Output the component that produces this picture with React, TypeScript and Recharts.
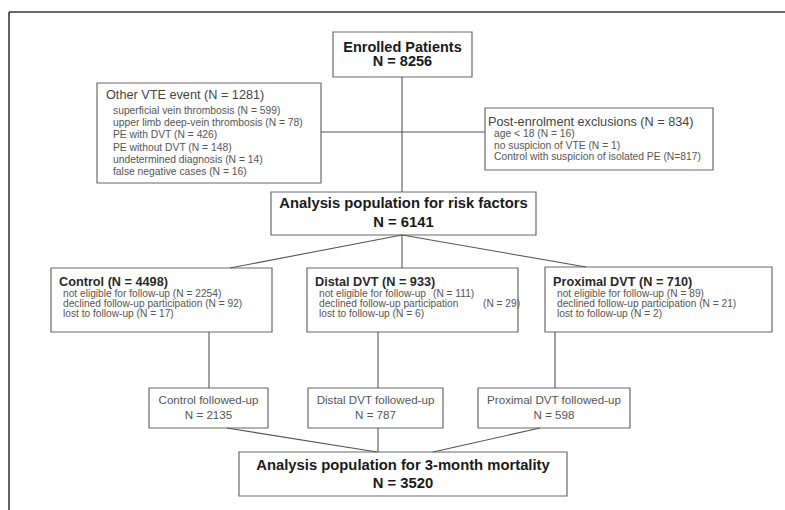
import React from 'react';
import { ScatterChart, XAxis, YAxis, Scatter, ReferenceArea, ReferenceLine } from 'recharts';

const W = 785;
const H = 510;

// counts
const enrolledTotal = 8256;
const otherVteTotal = 1281;
const otherVteLabels = [
  'superficial vein thrombosis',
  'upper limb deep-vein thrombosis',
  'PE with DVT',
  'PE without DVT',
  'undetermined diagnosis',
  'false negative cases',
];
const otherVteCounts = [599, 78, 426, 148, 14, 16];
const exclusionTotal = 834;
const exclusionLabels = ['age < 18', 'no suspicion of VTE', 'Control with suspicion of isolated PE'];
const exclusionCounts = [16, 1, 817];
const riskTotal = 6141;
const groups = ['Control', 'Distal DVT', 'Proximal DVT'];
const groupTotals = [4498, 933, 710];
const notEligible = [2254, 111, 89];
const declined = [92, 29, 21];
const lostFollowUp = [17, 6, 2];
const followedUp = [2135, 787, 598];
const mortalityTotal = 3520;

// layout (diagram units == pixels)
const boxes: Record<string, number[]> = {
  enrolled: [333, 32, 472, 77],
  otherVte: [97, 83, 321, 183],
  exclusions: [485, 108, 713, 170],
  risk: [271, 192, 536, 235],
  group0: [51, 268, 272, 332],
  group1: [307, 268, 518, 332],
  group2: [545, 267, 772, 332],
  fu0: [149, 388, 268, 428],
  fu1: [308, 388, 443, 428],
  fu2: [478, 388, 630, 428],
  mortality: [239, 452, 567, 496],
};

const links: number[][] = [
  [402, 77, 402, 192],
  [321, 132, 485, 132],
  [402, 235, 230, 268],
  [402, 235, 402, 268],
  [402, 235, 586, 267],
  [209, 332, 209, 388],
  [378, 332, 378, 388],
  [555, 332, 555, 388],
  [227, 428, 377, 452],
  [378, 428, 378, 452],
  [540, 428, 433, 452],
];

// the distal box lines its counts up in a column
const countTabs: (number[] | null)[] = [null, [118, 168], null];

const FONT = '"Liberation Sans", Arial, sans-serif';

type Line = { t: string; dx?: number; dy: number; size: number; bold?: boolean; color: string };
type Block = { x: number; y: number; anchor: 'start' | 'middle'; lines: Line[] };

const n = (v: number) => `N = ${v}`;

const itemStyle = { size: 10.2, color: '#555' };

function groupItem(label: string, count: number, dy: number, tab?: number): Line[] {
  if (tab == null) return [{ t: `${label} (${n(count)})`, dx: 4, dy, ...itemStyle }];
  return [
    { t: label, dx: 4, dy, ...itemStyle },
    { t: `(${n(count)})`, dx: tab, dy, ...itemStyle },
  ];
}

const blocks: Block[] = [
  {
    x: 402.5, y: 51.5, anchor: 'middle',
    lines: [
      { t: 'Enrolled Patients', dy: 0, size: 14.5, bold: true, color: '#1a1a1a' },
      { t: n(enrolledTotal), dy: 14.5, size: 14.5, bold: true, color: '#1a1a1a' },
    ],
  },
  {
    x: 106, y: 99, anchor: 'start',
    lines: [
      { t: `Other VTE event (${n(otherVteTotal)})`, dy: 0, size: 12.7, color: '#444' },
      ...otherVteLabels.map((l, i) => ({
        t: `${l} (${n(otherVteCounts[i])})`, dx: 7, dy: 15 + i * 12.2, size: 10.3, color: '#555',
      })),
    ],
  },
  {
    x: 488, y: 125.5, anchor: 'start',
    lines: [
      { t: `Post-enrolment exclusions (${n(exclusionTotal)})`, dy: 0, size: 12.7, color: '#444' },
      ...exclusionLabels.map((l, i) => ({
        t: `${l} (${i === 2 ? `N=${exclusionCounts[i]}` : n(exclusionCounts[i])})`,
        dx: 6, dy: 11.5 + i * 11.5, size: 10.3, color: '#555',
      })),
    ],
  },
  {
    x: 403.5, y: 208, anchor: 'middle',
    lines: [
      { t: 'Analysis population for risk factors', dy: 0, size: 14.8, bold: true, color: '#1a1a1a' },
      { t: n(riskTotal), dy: 18.5, size: 14.8, bold: true, color: '#1a1a1a' },
    ],
  },
  ...groups.map((g, i) => {
    const tabs = countTabs[i];
    return {
      x: boxes[`group${i}`][0] + 8, y: 285.5, anchor: 'start' as const,
      lines: [
        { t: `${g} (${n(groupTotals[i])})`, dy: 0, size: 12.7, bold: true, color: '#2a2a2a' },
        ...groupItem('not eligible for follow-up', notEligible[i], 11.5, tabs ? tabs[0] : undefined),
        ...groupItem('declined follow-up participation', declined[i], 21.5, tabs ? tabs[1] : undefined),
        ...groupItem('lost to follow-up', lostFollowUp[i], 31.5),
      ],
    };
  }),
  ...groups.map((g, i) => ({
    x: (boxes[`fu${i}`][0] + boxes[`fu${i}`][2]) / 2, y: 404, anchor: 'middle' as const,
    lines: [
      { t: `${g} followed-up`, dy: 0, size: 11.6, color: '#555' },
      { t: n(followedUp[i]), dy: 15, size: 11.6, color: '#555' },
    ],
  })),
  {
    x: 403, y: 470, anchor: 'middle',
    lines: [
      { t: 'Analysis population for 3-month mortality', dy: 0, size: 14.8, bold: true, color: '#1a1a1a' },
      { t: n(mortalityTotal), dy: 18, size: 14.8, bold: true, color: '#1a1a1a' },
    ],
  },
];

function TextBlock(props: any) {
  const { cx, cy, payload } = props;
  const b: Block = payload;
  return (
    <g>
      {b.lines.map((l, i) => (
        <text
          key={i}
          x={cx + (l.dx || 0)}
          y={cy + l.dy}
          textAnchor={b.anchor}
          fontFamily={FONT}
          fontSize={l.size}
          fontWeight={l.bold ? 700 : 400}
          fill={l.color}
        >
          {l.t}
        </text>
      ))}
    </g>
  );
}

export default function App() {
  return (
    <div style={{ position: 'absolute', left: 0, top: 0, width: W, height: H, background: '#fff' }}>
      <ScatterChart width={W} height={H} margin={{ top: 0, right: 0, bottom: 0, left: 0 }}>
        <XAxis type="number" dataKey="x" domain={[0, W]} hide />
        <YAxis type="number" dataKey="y" domain={[0, H]} reversed hide />
        <ReferenceLine segment={[{ x: 9, y: 12 }, { x: W, y: 12 }]} stroke="#3a3a3a" strokeWidth={1.6} ifOverflow="visible" />
        <ReferenceLine segment={[{ x: 9, y: 12 }, { x: 9, y: H }]} stroke="#3a3a3a" strokeWidth={1.6} ifOverflow="visible" />
        {links.map((s, i) => (
          <ReferenceLine
            key={`l${i}`}
            segment={[{ x: s[0], y: s[1] }, { x: s[2], y: s[3] }]}
            stroke="#555"
            strokeWidth={1.1}
            ifOverflow="visible"
          />
        ))}
        {Object.entries(boxes).map(([k, b]) => (
          <ReferenceArea
            key={k}
            x1={b[0]}
            x2={b[2]}
            y1={b[1]}
            y2={b[3]}
            fill="#fff"
            fillOpacity={1}
            stroke="#6a6a6a"
            strokeWidth={1.2}
            ifOverflow="visible"
          />
        ))}
        <Scatter data={blocks} isAnimationActive={false} shape={(p: any) => <TextBlock {...p} />} />
      </ScatterChart>
    </div>
  );
}
